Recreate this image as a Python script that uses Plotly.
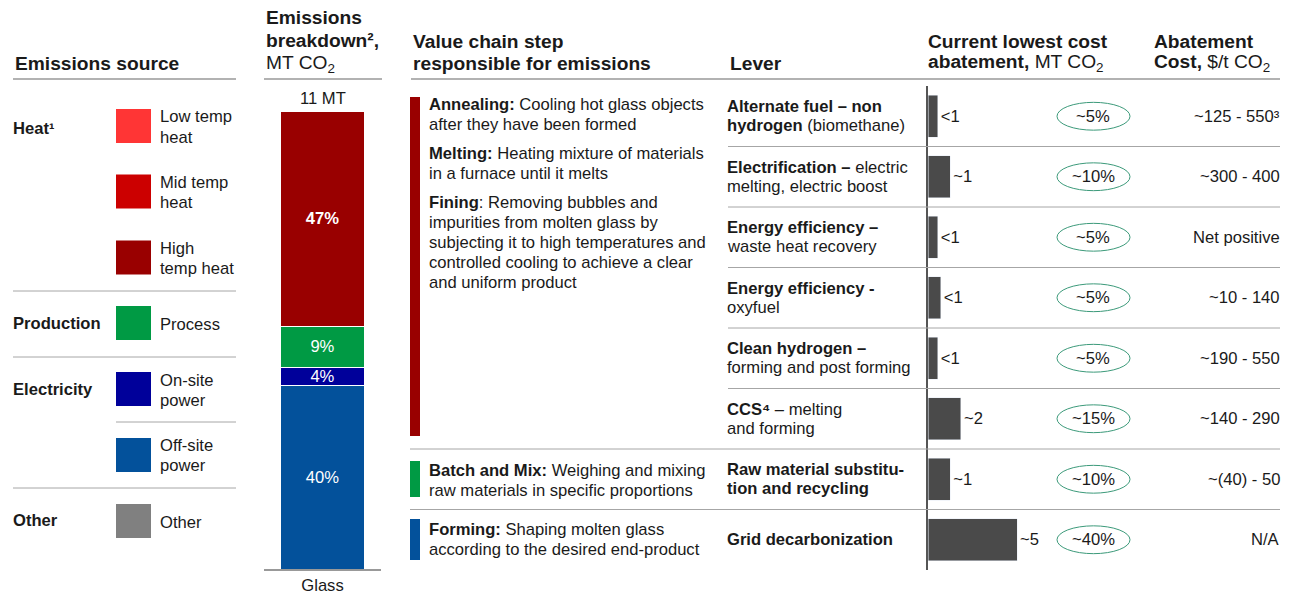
import plotly.graph_objects as go

W, H = 1293, 594
FONT = "Arial, 'Liberation Sans', sans-serif"
TXT = "#1a1a1a"
LINE = "#a6a6a6"
BODY = 16.6
HEAD = 19.2

# emissions breakdown (stacked bar, bottom to top)
seg_names = ["Off-site power", "On-site power", "Process", "High temp heat"]
seg_share = [40, 4, 9, 47]
seg_colors = ["#03519b", "#00009a", "#009a44", "#990000"]
total_label = "11 MT"
bar_category = "Glass"

# legend of emission sources
source_groups = ["Heat¹", "Production", "Electricity", "Other"]
legend_labels = ["Low temp<br>heat", "Mid temp<br>heat", "High<br>temp heat", "Process",
                 "On-site<br>power", "Off-site<br>power", "Other"]
legend_colors = ["#ff3535", "#cc0000", "#990000", "#009a44", "#00009a", "#03519b", "#808080"]

# value chain steps
chain_texts = [
    "<b>Annealing:</b> Cooling hot glass objects<br>after they have been formed",
    "<b>Melting:</b> Heating mixture of materials<br>in a furnace until it melts",
    "<b>Fining</b>: Removing bubbles and<br>impurities from molten glass by<br>subjecting it to high temperatures and<br>controlled cooling to achieve a clear<br>and uniform product",
    "<b>Batch and Mix:</b> Weighing and mixing<br>raw materials in specific proportions",
    "<b>Forming:</b> Shaping molten glass<br>according to the desired end-product",
]

# levers
levers = [
    "<b>Alternate fuel – non</b><br><b>hydrogen</b> (biomethane)",
    "<b>Electrification –</b> electric<br>melting, electric boost",
    "<b>Energy efficiency –</b><br>waste heat recovery",
    "<b>Energy efficiency -</b><br>oxyfuel",
    "<b>Clean hydrogen –</b><br>forming and post forming",
    "<b>CCS⁴</b> – melting<br>and forming",
    "<b>Raw material substitu-</b><br><b>tion and recycling</b>",
    "<b>Grid decarbonization</b>",
]
abatement_mt = [0.55, 1.25, 0.55, 0.72, 0.55, 1.85, 1.25, 5.0]
abatement_labels = ["<1", "~1", "<1", "<1", "<1", "~2", "~1", "~5"]
abatement_share = ["~5%", "~10%", "~5%", "~5%", "~5%", "~15%", "~10%", "~40%"]
abatement_cost = ["~125 - 550³", "~300 - 400", "Net positive", "~10 - 140",
                  "~190 - 550", "~140 - 290", "~(40) - 50", "N/A"]


def px(x):
    return x / W


def py(y):
    return 1 - y / H


fig = go.Figure()

for name, share, color in zip(seg_names, seg_share, seg_colors):
    fig.add_trace(go.Bar(
        x=[bar_category], y=[share], name=name, marker_color=color,
        marker_line=dict(color="white", width=1), width=0.71,
        text=[f"<b>{share}%</b>" if share > 40 else f"{share}%"],
        textposition="inside", insidetextanchor="middle",
        textfont=dict(color="white", size=BODY, family=FONT),
        xaxis="x", yaxis="y", showlegend=False, hoverinfo="skip"))

rows = list(range(len(levers)))
fig.add_trace(go.Bar(
    x=abatement_mt, y=rows, orientation="h", marker_color="#4a4a4a", width=0.69,
    text=abatement_labels, textposition="outside", constraintext="none",
    textfont=dict(color=TXT, size=BODY, family=FONT),
    xaxis="x2", yaxis="y2", showlegend=False, hoverinfo="skip"))


def note(text, x, y, size=BODY, xanchor="left", xref="paper", yref="paper", spacing=20, align="left"):
    # one annotation per line so line spacing matches the slide
    lines = text.split("<br>")
    n = len(lines)
    for k, line in enumerate(lines):
        fig.add_annotation(text=line, x=x, y=y, xref=xref, yref=yref, xanchor=xanchor,
                           yanchor="middle", showarrow=False, align=align,
                           yshift=-(k - (n - 1) / 2) * spacing,
                           font=dict(size=size, color=TXT, family=FONT))


def hline(x0, x1, y, yref="paper", color=LINE, width=1):
    yy = y if yref != "paper" else py(y)
    fig.add_shape(type="line", xref="paper", yref=yref, x0=px(x0), x1=px(x1),
                  y0=yy, y1=yy, line=dict(color=color, width=width))


def rect(x0, x1, y0, y1, color):
    fig.add_shape(type="rect", xref="paper", yref="paper", x0=px(x0), x1=px(x1),
                  y0=py(y1), y1=py(y0), fillcolor=color, line=dict(width=0))


# headers
note("<b>Emissions source</b>", px(13), py(64), size=HEAD)
note("<b>Emissions</b><br><b>breakdown²,</b><br>MT CO<sub>2</sub>", px(264), py(41), size=HEAD, spacing=23.5)
note("<b>Value chain step</b><br><b>responsible for emissions</b>", px(411), py(52.5), size=HEAD, spacing=22)
note("<b>Lever</b>", px(728), py(64), size=HEAD)
note("<b>Current lowest cost</b><br><b>abatement,</b> MT CO<sub>2</sub>", px(926), py(52.5), size=HEAD, spacing=22)
note("<b>Abatement</b><br><b>Cost,</b> $/t CO<sub>2</sub>", px(1152), py(52.5), size=HEAD, spacing=22)
hline(13, 236, 79, color="#999999", width=1.5)
hline(264, 382, 79, color="#999999", width=1.5)
hline(411, 1280, 79, color="#999999", width=1.5)

# emission source legend
group_y = [128, 323, 389, 520]
for g, yy in zip(source_groups, group_y):
    note(f"<b>{g}</b>", px(11), py(yy))
swatch_y = [126, 191.5, 257.5, 323, 389, 455, 521]
for lab, col, yy in zip(legend_labels, legend_colors, swatch_y):
    rect(116, 151, yy - 17, yy + 17, col)
    note(lab, px(158), py(yy + 1))
hline(13, 236, 291)
hline(13, 236, 357)
hline(116, 236, 422)
hline(13, 236, 488)

fig.add_annotation(text=total_label, x=0, y=100, xref="x", yref="y", xanchor="center",
                   yanchor="bottom", yshift=1, showarrow=False,
                   font=dict(size=BODY, color=TXT, family=FONT))

# value chain
rect(410, 420, 97, 436, "#990000")
rect(410, 420, 461, 497, "#009a44")
rect(410, 420, 519, 560, "#03519b")
for txt, yy in zip(chain_texts, [114, 163, 242, 480, 539]):
    note(txt, px(427), py(yy))

# lever rows
for i in rows:
    note(levers[i], px(725), i, yref="y2", spacing=19)
    note(abatement_share[i], px(1093), i, yref="y2", xanchor="center")
    note(abatement_cost[i], px(1282), i, yref="y2", xanchor="right", align="right")
    fig.add_shape(type="circle", xref="paper", yref="y2", x0=px(1057), x1=px(1130),
                  y0=i - 0.23, y1=i + 0.23, line=dict(color="#3c9a7a", width=1))
for i in rows[:-1]:
    start = 410 if i >= 5 else 728
    hline(start, 1280, i + 0.5, yref="y2")

fig.update_layout(
    width=W, height=H, margin=dict(l=0, r=0, t=0, b=0, autoexpand=False),
    paper_bgcolor="white", plot_bgcolor="white", barmode="stack",
    font=dict(family=FONT, color=TXT, size=BODY),
    uniformtext=dict(minsize=14, mode="show"),
    xaxis=dict(domain=[px(264), px(381)], range=[-0.5, 0.5], anchor="y",
               showline=True, linecolor="#999999", linewidth=1.5, showgrid=False,
               ticks="", ticklabelstandoff=0,
               tickfont=dict(size=BODY, color=TXT), fixedrange=True),
    yaxis=dict(domain=[py(569), py(111)], range=[0, 100], visible=False, fixedrange=True),
    xaxis2=dict(domain=[px(928), px(1106)], range=[0, 10], visible=False, anchor="y2",
                fixedrange=True),
    yaxis2=dict(domain=[py(570), py(86)], range=[len(levers) - 0.5, -0.5], anchor="x2",
                showline=True, linecolor="#555555", linewidth=1.5, showgrid=False,
                zeroline=False, showticklabels=False, ticks="", fixedrange=True),
)

fig.write_html("out.html", config={"displayModeBar": False},
               post_script="document.body.style.margin='0';document.body.style.overflow='hidden';")
